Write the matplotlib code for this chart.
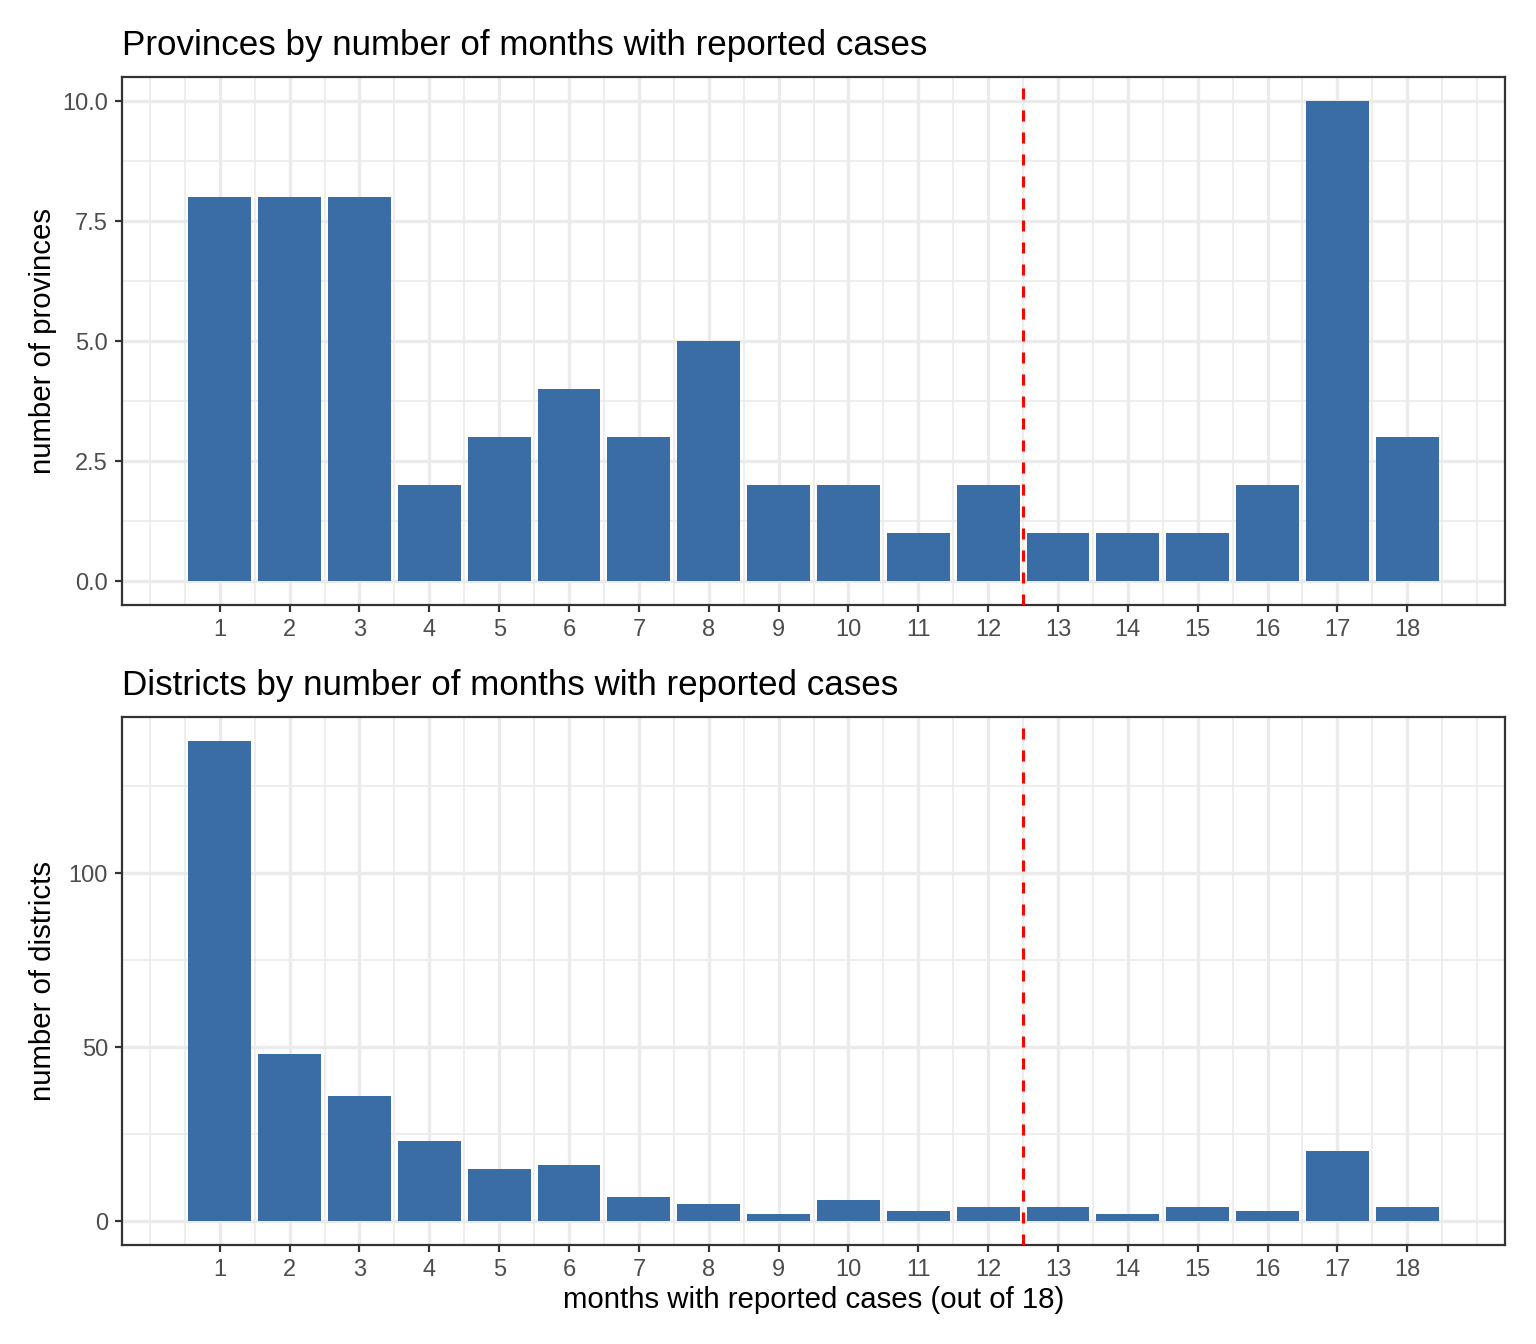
import matplotlib
matplotlib.use("Agg")
import matplotlib.pyplot as plt
import numpy as np
from matplotlib.ticker import FixedLocator, FormatStrFormatter

plt.rcParams['font.family'] = ['Liberation Sans', 'DejaVu Sans']

# data
months = list(range(1, 19))
provinces = [8, 8, 8, 2, 3, 4, 3, 5, 2, 2, 1, 2, 1, 1, 1, 2, 10, 3]
districts = [138, 48, 36, 23, 15, 16, 7, 5, 2, 6, 3, 4, 4, 2, 4, 3, 20, 4]
cutoff = 12.5

bar_col = '#3A6DA5'
grid_col = '#EBEBEB'
W, H = 1536, 1344

fig = plt.figure(figsize=(W / 200, H / 200), dpi=200)
ax1 = fig.add_axes([122 / W, 1 - 605 / H, 1383 / W, 528 / H])
ax2 = fig.add_axes([122 / W, 1 - 1245 / H, 1383 / W, 528 / H])


def style(ax, vals, yticks, ymin_breaks, fmt):
    ax.bar(months, vals, width=0.9, color=bar_col, zorder=3)
    ax.axvline(cutoff, color='red', lw=1.1, ls=(0, (3.6, 3.6)), zorder=4)
    # ggplot-like expansion around 0.5..18.5
    lo, hi = 0.5, 18.5
    ex = (hi - lo) * 0.05
    ax.set_xlim(lo - ex, hi + ex)
    ymax = max(vals)
    ax.set_ylim(-ymax * 0.05, ymax * 1.05)
    ax.xaxis.set_major_locator(FixedLocator(months))
    xminor = [m for m in np.arange(0, 19.01, 0.5) if m not in months]
    ax.xaxis.set_minor_locator(FixedLocator(xminor))
    ax.yaxis.set_major_locator(FixedLocator(yticks))
    ax.yaxis.set_minor_locator(FixedLocator(ymin_breaks))
    ax.yaxis.set_major_formatter(FormatStrFormatter(fmt))
    ax.grid(which='major', color=grid_col, lw=1.2, zorder=0)
    ax.grid(which='minor', color=grid_col, lw=0.6, zorder=0)
    ax.set_axisbelow(True)
    ax.tick_params(which='major', length=2.5, width=0.8, color='#333333',
                   labelsize=8.5, labelcolor='#4D4D4D', pad=2.5)
    ax.tick_params(which='minor', length=0)
    for s in ax.spines.values():
        s.set_color('#333333')
        s.set_linewidth(0.8)


style(ax1, provinces, [0, 2.5, 5, 7.5, 10], [1.25, 3.75, 6.25, 8.75], '%.1f')
style(ax2, districts, [0, 50, 100], [25, 75, 125], '%d')

ax1.set_title('Provinces by number of months with reported cases',
              loc='left', fontsize=12.6, pad=8)
ax2.set_title('Districts by number of months with reported cases',
              loc='left', fontsize=12.6, pad=8)

ax1.set_ylabel('number of provinces', fontsize=10.6)
ax2.set_ylabel('number of districts', fontsize=10.6)
ax1.yaxis.set_label_coords(-0.047, 0.5)
ax2.yaxis.set_label_coords(-0.047, 0.5)
ax2.set_xlabel('months with reported cases (out of 18)', fontsize=10.6)
ax2.xaxis.set_label_coords(0.5, -0.077)

fig.savefig('out.png', dpi=200)
